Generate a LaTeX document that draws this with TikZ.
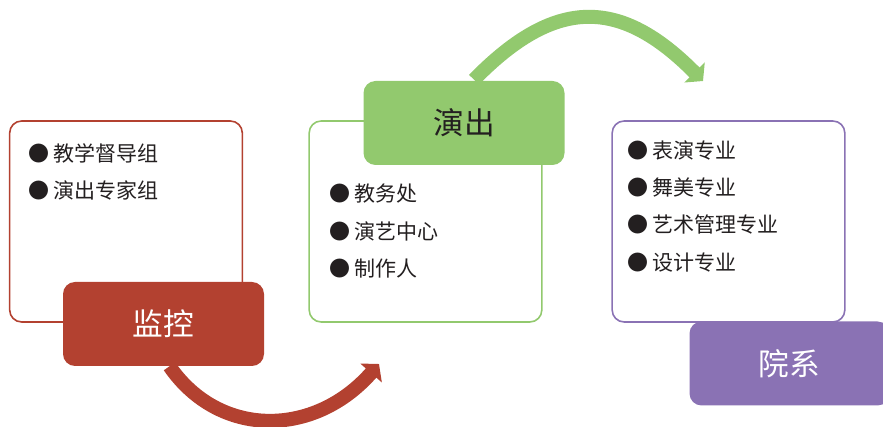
\documentclass[tikz,border=0pt]{standalone}
\usepackage{fontspec}
\setmainfont{Noto Sans CJK SC}
\usetikzlibrary{arrows.meta}
\definecolor{cred}{RGB}{179,65,48}
\definecolor{cgreen}{RGB}{146,201,110}
\definecolor{cpurple}{RGB}{138,114,180}
\definecolor{ctext}{RGB}{35,31,32}
\tikzset{
  outlinebox/.style={draw=#1, line width=1.2pt, rounded corners=9pt, fill=white,
    minimum width=174.5pt, minimum height=150.75pt, inner sep=0pt},
  titlebox/.style={fill=#1, draw=none, rounded corners=9pt,
    minimum width=150.75pt, minimum height=63pt, inner sep=0pt,
    font=\fontsize{23}{23}\selectfont},
  item/.style={anchor=west, inner sep=0pt, text=ctext, text height=11.5pt, text depth=2.5pt,
    font=\fontsize{15.75}{15.75}\selectfont},
  bigarrow/.style={line width=10.5pt, draw=#1, -{Triangle[length=9pt,width=21pt,fill=#1]}}
}
\begin{document}
\begin{tikzpicture}[x=0.75pt,y=-0.75pt]
\useasboundingbox (0,0) rectangle (883,427);
% outline boxes
\node[outlinebox=cred] (rbox) at (126,221.5) {};
\node[outlinebox=cgreen] (gbox) at (425.5,221.5) {};
\node[outlinebox=cpurple] (pbox) at (728.5,221.5) {};
% items
\node[item] (r1) at (28,156) {●\hspace{3.2pt}教学督导组};
\node[item] (r2) at (28,193) {●\hspace{3.2pt}演出专家组};
\node[item] (g1) at (329,196) {●\hspace{3.2pt}教务处};
\node[item] (g2) at (329,234) {●\hspace{3.2pt}演艺中心};
\node[item] (g3) at (329,271) {●\hspace{3.2pt}制作人};
\node[item] (p1) at (627,153) {●\hspace{3.2pt}表演专业};
\node[item] (p2) at (627,190) {●\hspace{3.2pt}舞美专业};
\node[item] (p3) at (627,227) {●\hspace{3.2pt}艺术管理专业};
\node[item] (p4) at (627,265) {●\hspace{3.2pt}设计专业};
% title boxes
\node[titlebox=cred, text=white] (jk) at (163.5,324) {监控};
\node[titlebox=cgreen, text=ctext] (yc) at (464,123) {演出};
\node[titlebox=cpurple, text=white, minimum width=150pt] (yx) at (789.5,363.5) {院系};
% arrows
\coordinate (redtip) at (379,364);
\coordinate (greentip) at (703,81);
\draw[bigarrow=cred] ([xshift=4.5pt]jk.south) .. controls (219,438) and (314,438) .. (redtip);
\draw[bigarrow=cgreen] ([xshift=7.5pt,yshift=0.75pt]yc.north) .. controls (555,-3) and (620,-3) .. (greentip);
\end{tikzpicture}
\end{document}
